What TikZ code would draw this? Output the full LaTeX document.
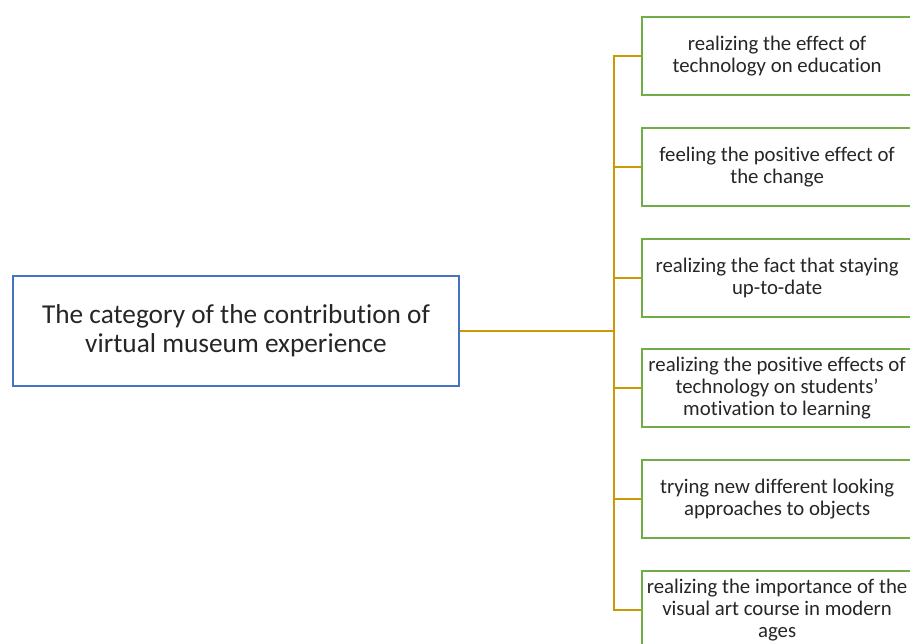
\documentclass[tikz,border=0pt]{standalone}
\usepackage{fontspec}
\setmainfont[Ligatures=NoCommon]{Carlito}
\definecolor{rootblue}{HTML}{4472C4}
\definecolor{leafgreen}{HTML}{70AD47}
\definecolor{linkgold}{HTML}{C99A06}
\definecolor{txt}{HTML}{262626}
\begin{document}
\begin{tikzpicture}[x=1pt,y=-1pt,
  rootbox/.style={draw=rootblue,line width=2.2pt,fill=white,minimum width=446pt,minimum height=110pt,
    align=center,text=txt,font=\fontsize{27.3pt}{29pt}\selectfont,inner sep=0pt},
  leafbox/.style={draw=leafgreen,line width=2.2pt,fill=white,minimum width=270pt,minimum height=78pt,
    align=center,text=txt,font=\fontsize{20.8pt}{21.8pt}\selectfont,inner sep=0pt},
  link/.style={draw=linkgold,line width=2.6pt}]
\useasboundingbox (0,0) rectangle (910,643);
\clip (0,0) rectangle (910,643);
% root category
\node[rootbox] (root) at (236,331) {The category of the contribution of\\virtual museum experience};
% trunk of the tree
\coordinate (hub) at (614,331);
% leaves
\node[leafbox,anchor=west] (l1) at (641,56) {realizing the effect of\\technology on education};
\node[leafbox,anchor=west] (l2) at (641,167) {feeling the positive effect of\\the change};
\node[leafbox,anchor=west] (l3) at (641,278) {realizing the fact that staying\\up-to-date};
\node[leafbox,anchor=west] (l4) at (641,388) {realizing the positive effects of\\technology on students’\\motivation to learning};
\node[leafbox,anchor=west] (l5) at (641,499) {trying new different looking\\approaches to objects};
\node[leafbox,anchor=west] (l6) at (641,610) {realizing the importance of the\\visual art course in modern\\ages};
% connectors
\draw[link] (root.east) -- (hub);
\draw[link] (l1.west) -| (hub) |- (l6.west);
\foreach \n in {l2,l3,l4,l5}{
  \draw[link] (\n.west) -- (hub |- \n.west);
}
\end{tikzpicture}
\end{document}
